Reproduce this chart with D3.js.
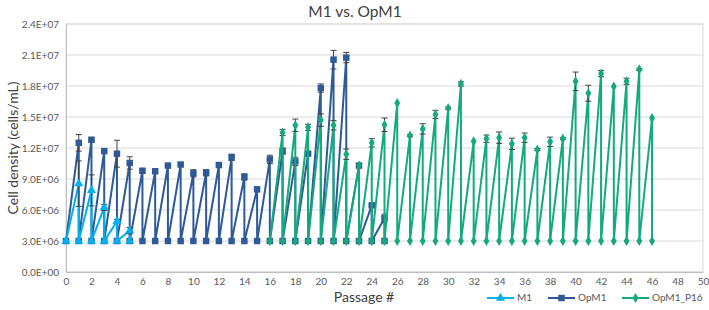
<!DOCTYPE html>
<html>
<head>
	<meta charset="utf-8">
	<title>M1 vs. OpM1</title>
	<script src="https://d3js.org/d3.v7.min.js"></script>
	<style>
		body { margin: 0; background: #fff; }
		text { font-family: Lato, "Open Sans", sans-serif; }
	</style>
</head>
<body>
	<div class="chart"></div>

	<script type="text/javascript">
		// 数据
		const seed = 3e6 // 每次传代的接种密度

		const m1Start = 0
		const m1Peaks = [8.55e6, 7.9e6, 6.25e6, 4.9e6, 4.0e6]
		const m1Err = [2.2e6, 1.5e6, 0.3e6, 0.2e6, 0.3e6]

		const opm1Start = 0
		const opm1Peaks = [1.25e7, 1.28e7, 1.17e7, 1.145e7, 1.055e7, 9.8e6, 9.75e6, 1.03e7, 1.04e7, 9.55e6,
			9.6e6, 1.035e7, 1.11e7, 9.2e6, 8.0e6, 1.09e7, 1.17e7, 1.07e7, 1.145e7, 1.78e7,
			2.055e7, 2.075e7, 1.03e7, 6.45e6, 5.2e6]
		const opm1Err = [0.8e6, 0.1e6, 0.1e6, 1.3e6, 0.6e6, 0.2e6, 0.2e6, 0.1e6, 0.1e6, 0.35e6,
			0.3e6, 0.2e6, 0.3e6, 0.3e6, 0, 0.4e6, 0.3e6, 0.4e6, 0.1e6, 0.4e6,
			0.9e6, 0.5e6, 0.2e6, 0.1e6, 0.4e6]

		const p16Start = 16
		const p16Peaks = [1.35e7, 1.42e7, 1.40e7, 1.47e7, 1.42e7, 1.14e7, 1.03e7, 1.25e7, 1.425e7, 1.635e7,
			1.32e7, 1.385e7, 1.525e7, 1.585e7, 1.82e7, 1.265e7, 1.29e7, 1.30e7, 1.24e7, 1.30e7,
			1.185e7, 1.26e7, 1.29e7, 1.845e7, 1.73e7, 1.92e7, 1.795e7, 1.845e7, 1.96e7, 1.49e7]
		const p16Err = [0.3e6, 0.6e6, 0.3e6, 0.6e6, 0.45e6, 0.5e6, 0.1e6, 0.4e6, 0.65e6, 0,
			0.1e6, 0.5e6, 0.4e6, 0.1e6, 0.2e6, 0, 0.35e6, 0.55e6, 0.55e6, 0.45e6,
			0.1e6, 0.45e6, 0.1e6, 0.9e6, 0.77e6, 0.3e6, 0, 0.3e6, 0.1e6, 0]

		const xTicks = d3.range(0, 51, 2)
		const yTicks = d3.range(0, 2.4e7 + 1, 3e6)

		const width = 709
		const height = 310
		const margin = { top: 24, right: 6, bottom: 38, left: 66 }

		const svg = d3.select('.chart').append('svg')
			.attr('width', width)
			.attr('height', height)

		const x = d3.scaleLinear([0, 50], [margin.left, width - margin.right])
		const y = d3.scaleLinear([0, 2.4e7], [height - margin.bottom, margin.top])

		// 锯齿数据：接种 -> 下一代峰值 -> 重新接种
		const sawtooth = (start, peaks, errs) => {
			const pts = [{ p: start, v: seed, e: 0 }]
			peaks.forEach((v, i) => {
				pts.push({ p: start + i + 1, v, e: errs[i] })
				pts.push({ p: start + i + 1, v: seed, e: 0 })
			})
			return pts
		}

		const series = [
			{ name: 'OpM1', color: '#2e5a97', marker: d3.symbolSquare, size: 42, data: sawtooth(opm1Start, opm1Peaks, opm1Err) },
			{ name: 'OpM1_P16', color: '#14a97f', marker: d3.symbolDiamond, size: 30, data: sawtooth(p16Start, p16Peaks, p16Err) },
			{ name: 'M1', color: '#00b0f0', marker: d3.symbolTriangle, size: 36, data: sawtooth(m1Start, m1Peaks, m1Err) }
		]

		const fmt = v => {
			const [m, e] = v.toExponential(1).toUpperCase().split('E')
			const sign = e[0] === '-' ? '-' : '+'
			return `${m}E${sign}${e.replace(/[+-]/, '').padStart(2, '0')}`
		}

		// 网格线
		svg.append('g')
			.selectAll('line')
			.data(yTicks)
			.join('line')
			.attr('x1', margin.left).attr('x2', width - margin.right)
			.attr('y1', d => y(d)).attr('y2', d => y(d))
			.attr('stroke', '#d9d9d9')
			.attr('stroke-width', 1)

		// 边框
		svg.append('rect')
			.attr('x', margin.left).attr('y', margin.top)
			.attr('width', width - margin.left - margin.right)
			.attr('height', height - margin.top - margin.bottom)
			.attr('fill', 'none')
			.attr('stroke', '#d9d9d9')

		// 坐标轴
		const xAxis = svg.append('g')
			.attr('transform', `translate(0, ${height - margin.bottom})`)
			.call(d3.axisBottom(x).tickValues(xTicks).tickSize(0).tickPadding(6))
		xAxis.select('.domain').attr('stroke', '#bfbfbf')
		xAxis.selectAll('text').attr('fill', '#595959').style('font-size', '10px')

		const yAxis = svg.append('g')
			.attr('transform', `translate(${margin.left}, 0)`)
			.call(d3.axisLeft(y).tickValues(yTicks).tickFormat(fmt).tickSize(0).tickPadding(7))
		yAxis.select('.domain').attr('stroke', '#bfbfbf')
		yAxis.selectAll('text').attr('fill', '#595959').style('font-size', '10px')

		const line = d3.line().x(d => x(d.p)).y(d => y(d.v))

		series.forEach(s => {
			const g = svg.append('g')

			g.append('path')
				.datum(s.data)
				.attr('fill', 'none')
				.attr('stroke', s.color)
				.attr('stroke-width', 2)
				.attr('stroke-linejoin', 'round')
				.attr('d', line)

			// 误差线
			const eb = g.append('g')
				.attr('stroke', '#404040')
				.attr('stroke-width', 1)
				.selectAll('g')
				.data(s.data.filter(d => d.e > 0))
				.join('g')
			eb.append('line')
				.attr('x1', d => x(d.p)).attr('x2', d => x(d.p))
				.attr('y1', d => y(d.v - d.e)).attr('y2', d => y(d.v + d.e))
			eb.append('line')
				.attr('x1', d => x(d.p) - 3).attr('x2', d => x(d.p) + 3)
				.attr('y1', d => y(d.v + d.e)).attr('y2', d => y(d.v + d.e))
			eb.append('line')
				.attr('x1', d => x(d.p) - 3).attr('x2', d => x(d.p) + 3)
				.attr('y1', d => y(d.v - d.e)).attr('y2', d => y(d.v - d.e))

			g.append('g')
				.selectAll('path')
				.data(s.data)
				.join('path')
				.attr('transform', d => `translate(${x(d.p)}, ${y(d.v)})`)
				.attr('d', d3.symbol(s.marker, s.size))
				.attr('fill', s.color)
		})

		// 标题
		svg.append('text')
			.attr('x', 355).attr('y', 17)
			.attr('text-anchor', 'middle')
			.attr('fill', '#404040')
			.style('font-size', '15.5px')
			.text('M1 vs. OpM1')

		svg.append('text')
			.attr('transform', `translate(14, ${(margin.top + height - margin.bottom) / 2}) rotate(-90)`)
			.attr('text-anchor', 'middle')
			.attr('dominant-baseline', 'middle')
			.attr('fill', '#404040')
			.style('font-size', '14px')
			.text('Cell density (cells/mL)')

		svg.append('text')
			.attr('x', 364).attr('y', 302)
			.attr('text-anchor', 'middle')
			.attr('fill', '#404040')
			.style('font-size', '14px')
			.text('Passage #')

		// 图例
		const legendItems = [
			{ s: series[2], x0: 487 },
			{ s: series[0], x0: 548 },
			{ s: series[1], x0: 622 }
		]
		const legend = svg.append('g').selectAll('g')
			.data(legendItems)
			.join('g')
			.attr('transform', d => `translate(${d.x0}, 298)`)
		legend.append('line')
			.attr('x1', 0).attr('x2', 27)
			.attr('stroke', d => d.s.color)
			.attr('stroke-width', 2)
		legend.append('path')
			.attr('transform', 'translate(13.5, 0)')
			.attr('d', d => d3.symbol(d.s.marker, d.s.size)())
			.attr('fill', d => d.s.color)
		legend.append('text')
			.attr('x', 30)
			.attr('dominant-baseline', 'middle')
			.attr('fill', '#595959')
			.style('font-size', '10px')
			.text(d => d.s.name)
	</script>
</body>
</html>
